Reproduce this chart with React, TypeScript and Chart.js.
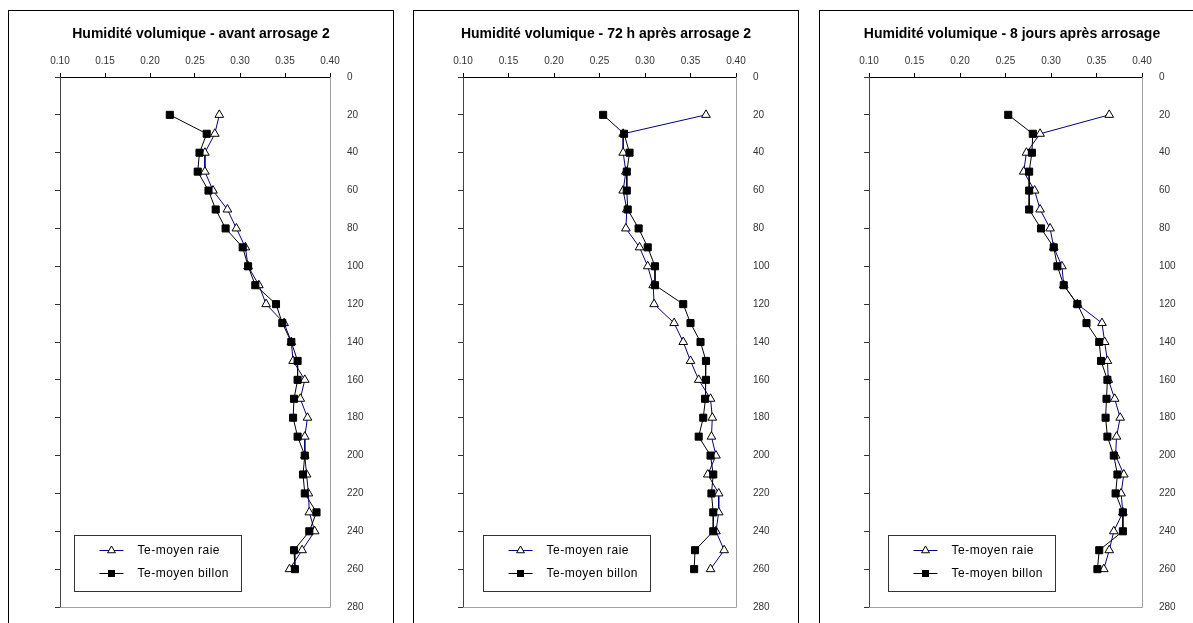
import React, { useEffect, useRef } from 'react';
import { Chart, registerables } from 'chart.js';
Chart.register(...registerables);

const depths = [20, 30, 40, 50, 60, 70, 80, 90, 100, 110, 120, 130, 140, 150, 160, 170, 180, 190, 200, 210, 220, 230, 240, 250, 260];

const titles = [
  'Humidité volumique - avant arrosage 2',
  'Humidité volumique - 72 h après arrosage 2',
  'Humidité volumique - 8 jours après arrosage',
];

const seriesNames = ['Te-moyen raie', 'Te-moyen billon'];

const raie1 = [0.277, 0.272, 0.261, 0.261, 0.270, 0.286, 0.296, 0.306, 0.309, 0.321, 0.329, 0.349, 0.357, 0.359, 0.372, 0.367, 0.375, 0.372, 0.372, 0.374, 0.376, 0.377, 0.383, 0.369, 0.355];
const billon1 = [0.222, 0.263, 0.255, 0.253, 0.265, 0.273, 0.284, 0.303, 0.309, 0.317, 0.340, 0.347, 0.357, 0.364, 0.364, 0.360, 0.359, 0.364, 0.372, 0.370, 0.372, 0.385, 0.377, 0.360, 0.361];

const raie2 = [0.367, 0.276, 0.276, 0.279, 0.276, 0.280, 0.279, 0.294, 0.303, 0.309, 0.310, 0.332, 0.342, 0.350, 0.359, 0.372, 0.374, 0.373, 0.378, 0.369, 0.381, 0.381, 0.378, 0.387, 0.372];
const billon2 = [0.254, 0.277, 0.283, 0.280, 0.280, 0.281, 0.293, 0.303, 0.311, 0.311, 0.342, 0.350, 0.361, 0.367, 0.367, 0.366, 0.364, 0.359, 0.372, 0.375, 0.373, 0.375, 0.375, 0.355, 0.354];

const raie3 = [0.364, 0.288, 0.273, 0.270, 0.282, 0.288, 0.299, 0.303, 0.312, 0.314, 0.329, 0.356, 0.359, 0.362, 0.363, 0.370, 0.376, 0.372, 0.371, 0.380, 0.377, 0.379, 0.369, 0.364, 0.358];
const billon3 = [0.253, 0.280, 0.279, 0.276, 0.276, 0.276, 0.289, 0.303, 0.307, 0.314, 0.329, 0.339, 0.353, 0.355, 0.362, 0.361, 0.360, 0.362, 0.369, 0.373, 0.371, 0.379, 0.379, 0.353, 0.351];

const xMin = 0.1;
const xMax = 0.4;
const xStep = 0.05;
const yMin = 0;
const yMax = 280;
const yStep = 20;

const panels = [
  { title: titles[0], raie: raie1, billon: billon1, left: 8, plotLeft: 52, plotRight: 322, legendLeft: 66 },
  { title: titles[1], raie: raie2, billon: billon2, left: 413, plotLeft: 50, plotRight: 323, legendLeft: 70 },
  { title: titles[2], raie: raie3, billon: billon3, left: 819, plotLeft: 50, plotRight: 323, legendLeft: 69 },
];

const CW = 386;
const CH = 620;
const PLOT_TOP = 67;
const PLOT_BOTTOM = 606;
const FONT = '"Liberation Sans", Arial, sans-serif';
const RAIE_COLOR = '#000080';

function drawTriangle(ctx: CanvasRenderingContext2D, x: number, y: number, r: number) {
  ctx.beginPath();
  ctx.moveTo(x, y - r);
  ctx.lineTo(x + 0.866 * r, y + 0.5 * r);
  ctx.lineTo(x - 0.866 * r, y + 0.5 * r);
  ctx.closePath();
  ctx.fillStyle = '#fff';
  ctx.fill();
  ctx.strokeStyle = '#000';
  ctx.lineWidth = 1;
  ctx.stroke();
}

function Panel({ p }: { p: typeof panels[number] }) {
  const ref = useRef<HTMLCanvasElement | null>(null);
  useEffect(() => {
    if (!ref.current) return;
    const raiePts = depths.map((d, i) => ({ x: p.raie[i], y: d }));
    const billonPts = depths.map((d, i) => ({ x: p.billon[i], y: d }));
    const deco = {
      id: 'deco',
      beforeDatasetsDraw(chart: any) {
        const ctx = chart.ctx as CanvasRenderingContext2D;
        const a = chart.chartArea;
        ctx.save();
        ctx.strokeStyle = '#a0a0a0';
        ctx.lineWidth = 1;
        ctx.beginPath();
        ctx.moveTo(Math.round(a.right) + 0.5, a.top);
        ctx.lineTo(Math.round(a.right) + 0.5, Math.round(a.bottom) + 0.5);
        ctx.lineTo(a.left, Math.round(a.bottom) + 0.5);
        ctx.stroke();
        ctx.restore();
      },
      afterDraw(chart: any) {
        const ctx = chart.ctx as CanvasRenderingContext2D;
        ctx.save();
        ctx.strokeStyle = '#000';
        ctx.lineWidth = 1;
        ctx.strokeRect(0.5, 0.5, CW - 1, CH + 10);
        ctx.fillStyle = '#000';
        ctx.font = `bold 14px ${FONT}`;
        ctx.textAlign = 'center';
        ctx.textBaseline = 'middle';
        ctx.fillText(p.title, CW / 2, 24);
        const bx = p.legendLeft + 0.5;
        const by = 525.5;
        const bw = 167;
        const bh = 56;
        ctx.fillStyle = '#fff';
        ctx.fillRect(bx, by, bw, bh);
        ctx.strokeStyle = '#333';
        ctx.strokeRect(bx, by, bw, bh);
        const entries = [
          { name: seriesNames[0], color: RAIE_COLOR, kind: 'tri', y: by + 14 },
          { name: seriesNames[1], color: '#000', kind: 'sq', y: by + 37.5 },
        ];
        for (const e of entries) {
          const yy = Math.round(e.y) + 0.5;
          ctx.strokeStyle = e.color;
          ctx.lineWidth = 1;
          ctx.beginPath();
          ctx.moveTo(bx + 25, yy);
          ctx.lineTo(bx + 49, yy);
          ctx.stroke();
          const mx = bx + 37;
          if (e.kind === 'tri') {
            drawTriangle(ctx, mx, yy, 4.5);
          } else {
            ctx.fillStyle = '#000';
            ctx.fillRect(mx - 3.5, yy - 3.5, 7, 7);
          }
          ctx.fillStyle = '#000';
          ctx.font = `12px ${FONT}`;
          (ctx as any).letterSpacing = '0.5px';
          ctx.textAlign = 'left';
          ctx.textBaseline = 'middle';
          ctx.fillText(e.name, bx + 63, yy);
          (ctx as any).letterSpacing = '0px';
        }
        ctx.restore();
      },
    };
    const chart = new Chart(ref.current, {
      type: 'scatter',
      data: {
        datasets: [
          {
            label: seriesNames[1],
            data: billonPts,
            showLine: true,
            borderColor: '#000',
            borderWidth: 1,
            pointStyle: 'rect',
            pointRadius: 5,
            pointBackgroundColor: '#000',
            pointBorderColor: '#000',
            pointBorderWidth: 1,
            xAxisID: 'x',
            yAxisID: 'y',
          },
          {
            label: seriesNames[0],
            data: raiePts,
            showLine: true,
            borderColor: RAIE_COLOR,
            borderWidth: 1,
            pointStyle: 'triangle',
            pointRadius: 5,
            pointBackgroundColor: '#fff',
            pointBorderColor: '#000',
            pointBorderWidth: 1,
            xAxisID: 'x',
            yAxisID: 'y',
          },
        ],
      },
      options: {
        responsive: false,
        animation: false,
        devicePixelRatio: 1,
        events: [],
        layout: { padding: { top: 0, left: 0, right: 0, bottom: CH - PLOT_BOTTOM } },
        plugins: { legend: { display: false }, title: { display: false }, tooltip: { enabled: false } },
        scales: {
          x: {
            type: 'linear',
            position: 'top',
            min: xMin,
            max: xMax,
            grid: { drawOnChartArea: false, drawTicks: true, tickLength: 4, color: '#000' },
            border: { color: '#000', width: 1 },
            ticks: {
              stepSize: xStep,
              autoSkip: false,
              maxRotation: 0,
              padding: 6,
              color: '#333',
              font: { family: FONT, size: 10 },
              callback: (v: any) => Number(v).toFixed(2),
            },
            afterFit: (s: any) => { s.height = PLOT_TOP; },
          },
          y: {
            type: 'linear',
            position: 'left',
            min: yMin,
            max: yMax,
            reverse: true,
            grid: { drawOnChartArea: false, drawTicks: true, tickLength: 5, color: '#333' },
            border: { color: '#444', width: 1 },
            ticks: { stepSize: yStep, display: false },
            afterFit: (s: any) => { s.width = p.plotLeft; },
          },
          y2: {
            type: 'linear',
            position: 'right',
            display: true,
            min: yMin,
            max: yMax,
            reverse: true,
            grid: { display: false, drawTicks: false },
            border: { display: false },
            ticks: {
              stepSize: yStep,
              padding: 17,
              color: '#333',
              font: { family: FONT, size: 10 },
            },
            afterFit: (s: any) => { s.width = CW - p.plotRight; },
          },
        },
      } as any,
      plugins: [deco],
    });
    return () => chart.destroy();
  }, [p]);
  return (
    <canvas
      ref={ref}
      width={CW}
      height={CH}
      style={{ position: 'absolute', left: p.left, top: 10, width: CW, height: CH }}
    />
  );
}

export default function App() {
  return (
    <div style={{ position: 'fixed', left: 0, top: 0, width: 1193, height: 623, overflow: 'hidden', background: '#fff' }}>
      {panels.map((p, i) => (
        <Panel key={i} p={p} />
      ))}
    </div>
  );
}
